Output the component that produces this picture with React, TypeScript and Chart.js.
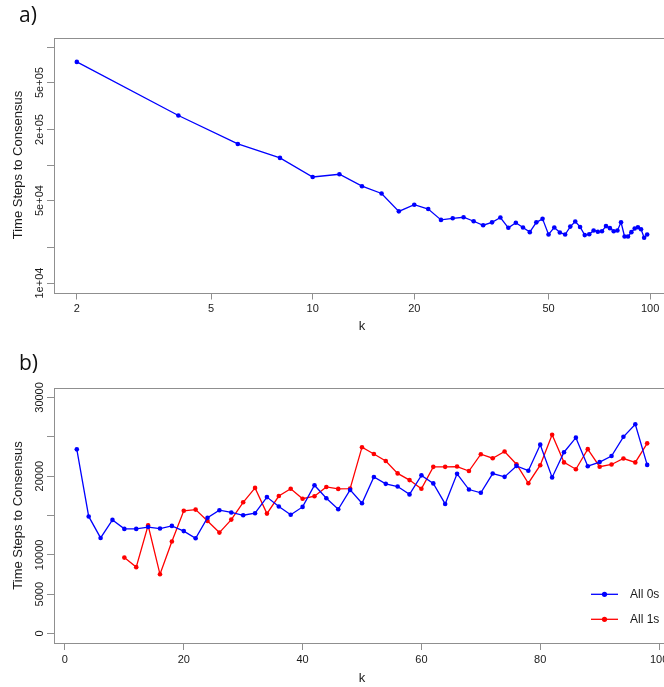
import React, { useEffect, useRef } from "react";
import { Chart, registerables } from "chart.js";

Chart.register(...registerables);

// ---------- Panel a) data ----------
const K_A = [2, 4, 6, 8, 10, 12, 14, 16, 18, 20, 22, 24, 26, 28, 30, 32, 34, 36, 38, 40, 42, 44, 46, 48, 50, 52, 54, 56, 58, 60, 62, 64, 66, 68, 70, 72, 74, 76, 78, 80, 82, 84, 86, 88, 90, 92, 94, 96, 98];
const STEPS_A = [748000, 263000, 151000, 115000, 79200, 83600, 66200, 57400, 40500, 46100, 42400, 34300, 35400, 36100, 33400, 30900, 32700, 35900, 29400, 32400, 29600, 27000, 32700, 35000, 25800, 29600, 26800, 25800, 30100, 33200, 29900, 25500, 25900, 27900, 27200, 27500, 30400, 29200, 27500, 27900, 32700, 24800, 24800, 27000, 29000, 29700, 28600, 24200, 25800];
const X_TICKS_A = [2, 5, 10, 20, 50, 100];
const Y_TICKS_A = [10000, 20000, 50000, 100000, 200000, 500000, 1000000];
const Y_LABELS_A = ["1e+04", "", "5e+04", "", "2e+05", "5e+05", ""];

// ---------- Panel b) data ----------
const K_B0 = [2, 4, 6, 8, 10, 12, 14, 16, 18, 20, 22, 24, 26, 28, 30, 32, 34, 36, 38, 40, 42, 44, 46, 48, 50, 52, 54, 56, 58, 60, 62, 64, 66, 68, 70, 72, 74, 76, 78, 80, 82, 84, 86, 88, 90, 92, 94, 96, 98];
const ALL_0S = [23405, 14882, 12150, 14440, 13300, 13300, 13530, 13340, 13680, 13020, 12100, 14710, 15670, 15390, 15030, 15290, 17340, 16150, 15090, 16090, 18850, 17190, 15790, 18250, 16560, 19890, 19020, 18680, 17680, 20100, 19080, 16470, 20290, 18300, 17890, 20330, 19910, 21300, 20690, 24000, 19840, 23040, 24890, 21260, 21790, 22560, 25000, 26600, 21430];
const K_B1 = [10, 12, 14, 16, 18, 20, 22, 24, 26, 28, 30, 32, 34, 36, 38, 40, 42, 44, 46, 48, 50, 52, 54, 56, 58, 60, 62, 64, 66, 68, 70, 72, 74, 76, 78, 80, 82, 84, 86, 88, 90, 92, 94, 96, 98];
const ALL_1S = [9650, 8440, 13740, 7530, 11700, 15600, 15750, 14310, 12830, 14480, 16680, 18510, 15240, 17470, 18400, 17130, 17450, 18630, 18380, 18420, 23680, 22810, 21920, 20350, 19500, 18400, 21180, 21180, 21220, 20650, 22790, 22280, 23130, 21520, 19100, 21390, 25250, 21750, 20880, 23430, 21200, 21480, 22240, 21750, 24170];
const SERIES_B = ["All 0s", "All 1s"];
const X_TICKS_B = [0, 20, 40, 60, 80, 100];
const Y_TICKS_B = [0, 5000, 10000, 15000, 20000, 25000, 30000];
const Y_LABELS_B = ["0", "5000", "10000", "", "20000", "", "30000"];

const FONT = "'Liberation Sans', Arial, sans-serif";
const AXIS_COLOR = "#8f8f8f";
const TEXT_COLOR = "#1a1a1a";
const BLUE = "#0000ff";
const RED = "#ff0000";

const CANVAS_W = 690;

const boxPlugin = {
  id: "box",
  afterDraw(chart: any) {
    const { ctx, chartArea: ca } = chart;
    ctx.save();
    ctx.strokeStyle = AXIS_COLOR;
    ctx.lineWidth = 1;
    ctx.strokeRect(Math.round(ca.left) + 0.5, Math.round(ca.top) + 0.5, Math.round(ca.right - ca.left), Math.round(ca.bottom - ca.top));
    ctx.restore();
  },
};

function yLabelPlugin(labels: string[]) {
  return {
    id: "yRotLabels",
    afterDraw(chart: any) {
      const { ctx } = chart;
      const s = chart.scales.y;
      ctx.save();
      ctx.fillStyle = TEXT_COLOR;
      ctx.font = `11px ${FONT}`;
      ctx.textAlign = "center";
      ctx.textBaseline = "middle";
      s.ticks.forEach((t: any, i: number) => {
        const lab = labels[i];
        if (!lab) return;
        const y = s.getPixelForValue(t.value);
        ctx.save();
        ctx.translate(39.5, y);
        ctx.rotate(-Math.PI / 2);
        ctx.fillText(lab, 0, 0);
        ctx.restore();
      });
      ctx.restore();
    },
  };
}

const legendPlugin = {
  id: "rLegend",
  afterDraw(chart: any) {
    const { ctx, chartArea: ca } = chart;
    ctx.save();
    chart.data.datasets.forEach((d: any, i: number) => {
      const y = ca.bottom - 48.7 + i * 25;
      ctx.strokeStyle = d.borderColor;
      ctx.lineWidth = 1.3;
      ctx.beginPath();
      ctx.moveTo(ca.right - 79, y);
      ctx.lineTo(ca.right - 52, y);
      ctx.stroke();
      ctx.fillStyle = d.borderColor;
      ctx.beginPath();
      ctx.arc(ca.right - 65.5, y, 2.6, 0, Math.PI * 2);
      ctx.fill();
      ctx.fillStyle = TEXT_COLOR;
      ctx.font = `12px ${FONT}`;
      ctx.textAlign = "left";
      ctx.textBaseline = "middle";
      ctx.fillText(d.label, ca.right - 40, y + 0.5);
    });
    ctx.restore();
  },
};

function lineDataset(label: string, xs: number[], ys: number[], color: string) {
  return {
    label,
    data: xs.map((x, i) => ({ x, y: ys[i] })),
    borderColor: color,
    backgroundColor: color,
    borderWidth: 1.3,
    pointRadius: 2.3,
    pointBorderWidth: 0,
    pointHoverRadius: 2.3,
    tension: 0,
  };
}

function tickGrid() {
  return { display: true, drawOnChartArea: false, drawTicks: true, tickLength: 7, color: AXIS_COLOR, lineWidth: 1 };
}

function makeChart(canvas: HTMLCanvasElement, panel: "a" | "b") {
  const isA = panel === "a";
  const H = isA ? 340 : 347;
  const plotBottom = isA ? 292.5 : 303;
  const datasets = isA
    ? [lineDataset("a", K_A, STEPS_A, BLUE)]
    : [lineDataset(SERIES_B[0], K_B0, ALL_0S, BLUE), lineDataset(SERIES_B[1], K_B1, ALL_1S, RED)];
  const xTicks = isA ? X_TICKS_A : X_TICKS_B;
  const yTicks = isA ? Y_TICKS_A : Y_TICKS_B;
  const yLabels = isA ? Y_LABELS_A : Y_LABELS_B;
  const plugins: any[] = [boxPlugin, yLabelPlugin(yLabels)];
  if (!isA) plugins.push(legendPlugin);

  return new Chart(canvas, {
    type: "line",
    data: { datasets } as any,
    options: {
      responsive: false,
      animation: false,
      events: [],
      devicePixelRatio: 1,
      layout: { padding: { top: isA ? 37.6 : 48, right: CANVAS_W - 670, left: 0, bottom: 0 } },
      plugins: { legend: { display: false }, tooltip: { enabled: false }, title: { display: false } },
      scales: {
        x: {
          type: isA ? "logarithmic" : "linear",
          bounds: "data",
          min: isA ? Math.pow(10, 0.2334) : -1.84,
          max: isA ? Math.pow(10, 2.0589) : 101.84,
          afterBuildTicks: (s: any) => {
            s.ticks = xTicks.map((v) => ({ value: v }));
          },
          afterFit: (s: any) => {
            s.height = H - plotBottom;
          },
          ticks: {
            autoSkip: false,
            maxRotation: 0,
            minRotation: 0,
            padding: 3,
            color: TEXT_COLOR,
            font: { family: FONT, size: 11 },
            callback: (v: any) => String(v),
          },
          grid: tickGrid(),
          border: { display: false },
          title: {
            display: true,
            text: "k",
            color: TEXT_COLOR,
            font: { family: FONT, size: 13 },
            padding: { top: 0, bottom: isA ? 6.2 : 0.5 },
          },
        },
        y: {
          type: isA ? "logarithmic" : "linear",
          bounds: "data",
          min: isA ? Math.pow(10, 3.92) : -1200,
          max: isA ? Math.pow(10, 6.08) : 31200,
          afterBuildTicks: (s: any) => {
            s.ticks = yTicks.map((v) => ({ value: v }));
          },
          afterFit: (s: any) => {
            s.width = 54;
          },
          ticks: { display: false },
          grid: tickGrid(),
          border: { display: false },
          title: {
            display: true,
            text: "Time Steps to Consensus",
            color: TEXT_COLOR,
            font: { family: FONT, size: 13 },
            padding: { top: 10.2, bottom: 0 },
          },
        },
      },
    } as any,
    plugins,
  });
}

function Panel({ panel, top, height }: { panel: "a" | "b"; top: number; height: number }) {
  const ref = useRef<HTMLCanvasElement>(null);
  useEffect(() => {
    if (!ref.current) return;
    const chart = makeChart(ref.current, panel);
    return () => chart.destroy();
  }, [panel]);
  return (
    <canvas
      ref={ref}
      width={CANVAS_W}
      height={height}
      style={{ position: "absolute", left: 0, top, width: CANVAS_W, height }}
    />
  );
}

export default function App() {
  useEffect(() => {
    document.body.style.margin = "0";
    document.body.style.overflow = "hidden";
  }, []);
  const labelStyle: React.CSSProperties = {
    position: "absolute",
    left: 19,
    fontFamily: "'Open Sans', 'Liberation Sans', sans-serif",
    fontSize: 21,
    lineHeight: "21px",
    color: "#111",
  };
  return (
    <div style={{ position: "relative", width: 664, height: 687, overflow: "hidden", background: "#fff" }}>
      <Panel panel="a" top={0} height={340} />
      <Panel panel="b" top={340} height={347} />
      <div style={{ ...labelStyle, top: 4 }}>a)</div>
      <div style={{ ...labelStyle, top: 352 }}>b)</div>
    </div>
  );
}
